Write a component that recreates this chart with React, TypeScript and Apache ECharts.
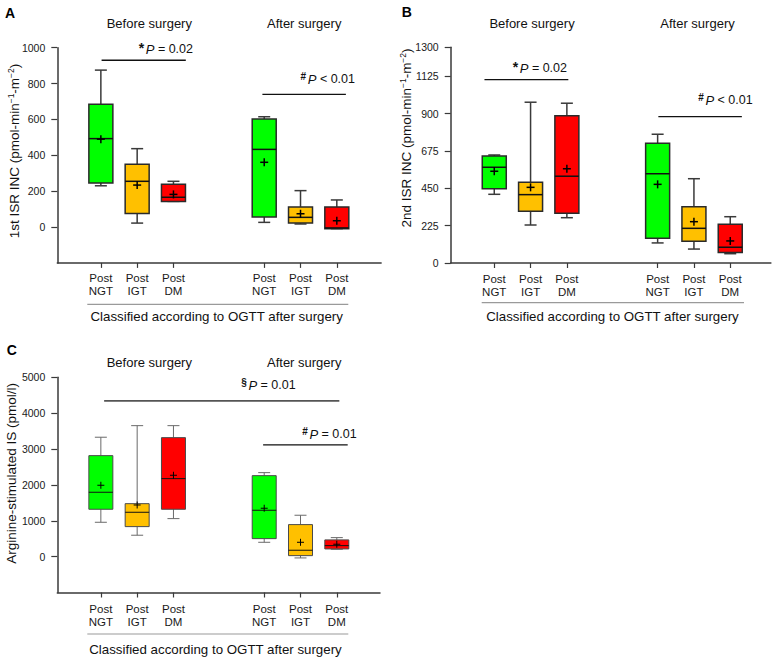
import React, { useEffect, useRef } from 'react';
import * as echarts from 'echarts';

const FONT = '"Liberation Sans", Arial, Helvetica, sans-serif';

// Category positions on the x value-axis (two groups of three)
const positions = [1, 2, 3, 5.5, 6.5, 7.5];
const groupLabels = ['Post\nNGT', 'Post\nIGT', 'Post\nDM', 'Post\nNGT', 'Post\nIGT', 'Post\nDM'];
const boxColors = ['#00ff00', '#ffc000', '#ff0000', '#00ff00', '#ffc000', '#ff0000'];

// Panel A: 1st ISR INC — [min, Q1, median, Q3, max]
const isr1Boxes = [
  [230, 245, 493, 684, 875],
  [22, 76, 255, 350, 437],
  [143, 143, 166, 238, 255],
  [26, 56, 433, 602, 615],
  [17, 22, 54, 112, 203],
  [-9, -9, -5, 112, 151],
];
const isr1Means = [490, 234, 182, 361, 74, 35];
const isr1Ticks = [0, 200, 400, 600, 800, 1000];

// Panel B: 2nd ISR INC
const isr2Boxes = [
  [414, 448, 577, 645, 651],
  [229, 312, 412, 486, 969],
  [273, 300, 523, 888, 963],
  [121, 149, 538, 721, 776],
  [84, 131, 209, 339, 508],
  [56, 64, 95, 233, 279],
];
const isr2Means = [553, 456, 568, 474, 249, 133];
const isr2Ticks = [0, 225, 450, 675, 900, 1125, 1300];

// Panel C: Arginine-stimulated IS
const argBoxes = [
  [958, 1321, 1795, 2816, 3329],
  [597, 837, 1237, 1477, 3652],
  [1060, 1321, 2175, 3318, 3652],
  [400, 502, 1293, 2258, 2342],
  [-36, 28, 178, 893, 1154],
  [206, 215, 307, 466, 530],
];
const argMeans = [1990, 1440, 2269, 1349, 400, 346];
const argTicks = [0, 1000, 2000, 3000, 4000, 5000];

// Significance bars: [xStart, xEnd, yValue]
const sigA = [[1.02, 3.34, 930], [5.45, 7.75, 740]];
const sigB = [[0.73, 3.04, 1105], [5.52, 7.82, 882]];
const sigC = [[1.09, 7.57, 4341], [5.47, 7.8, 3114]];
const sigMarksA = ['*', '#'];
const sigMarksB = ['*', '#'];
const sigMarksC = ['§', '#'];
const sigTextsA = ['= 0.02', '< 0.01'];
const sigTextsB = ['= 0.02', '< 0.01'];
const sigTextsC = ['= 0.01', '= 0.01'];

const panels = [
  { letter: 'A', lx: 10, ly: 12.5, left: 57.3, top: 47.7, width: 323.8, height: 215.2, xMax: 8.72, yMin: -200, yMax: 1000,
    boxes: isr1Boxes, means: isr1Means, ticks: isr1Ticks, sig: sigA, marks: sigMarksA, texts: sigTextsA,
    sigPos: [[193, 49.3], [355, 79.3]], headY: 23, headX: [149.3, 304.2],
    nameX: 14.5, nameY: 151, name: '{n|1st ISR INC (pmol-min}{s|−1}{n|-m}{s|−2}{n|)}',
    sepY: 304.3, sepX: [87.3, 348.3], bottomX: 216.7, bottomY: 316.7, thin: false, labelMargin: 9 },
  { letter: 'B', lx: 406.7, ly: 12, left: 450.7, top: 47.3, width: 320.2, height: 215.7, xMax: 8.62, yMin: 0, yMax: 1300,
    boxes: isr2Boxes, means: isr2Means, ticks: isr2Ticks, sig: sigB, marks: sigMarksB, texts: sigTextsB,
    sigPos: [[567, 68.3], [752.7, 100]], headY: 23, headX: [532, 697.5],
    nameX: 406, nameY: 138, name: '{n|2nd ISR INC (pmol-min}{s|−1}{n|-m}{s|−2}{n|)}',
    sepY: 302.7, sepX: [481.7, 744], bottomX: 612.5, bottomY: 316.7, thin: false, labelMargin: 9 },
  { letter: 'C', lx: 11.7, ly: 350, left: 57.3, top: 377.3, width: 322.7, height: 215.2, xMax: 8.69, yMin: -1000, yMax: 5000,
    boxes: argBoxes, means: argMeans, ticks: argTicks, sig: sigC, marks: sigMarksC, texts: sigTextsC,
    sigPos: [[295.7, 385], [356.7, 434]], headY: 362.5, headX: [149.3, 304.2],
    nameX: 11.7, nameY: 473.3, name: '{n|Arginine-stimulated IS (pmol/l)}',
    sepY: 634, sepX: [87.3, 348.3], bottomX: 215.5, bottomY: 649, thin: true, labelMargin: 10 },
];

const axisColor = '#3a3a3a';

function makeBoxSeries(gi: number, boxes: number[][], means: number[], thin: boolean) {
  return {
    type: 'custom',
    xAxisIndex: gi,
    yAxisIndex: gi,
    silent: true,
    clip: false,
    encode: { x: 0, y: [1, 2, 3, 4, 5, 6] },
    data: positions.map((p, i) => [p, ...boxes[i], means[i]]),
    renderItem: (params: any, api: any) => {
      const x = api.value(0);
      const pMin = api.coord([x, api.value(1)]);
      const cx = pMin[0];
      const yMin = pMin[1];
      const yQ1 = api.coord([x, api.value(2)])[1];
      const yMed = api.coord([x, api.value(3)])[1];
      const yQ3 = api.coord([x, api.value(4)])[1];
      const yMax = api.coord([x, api.value(5)])[1];
      const yMean = api.coord([x, api.value(6)])[1];
      const bw = 24;
      const cw = 12;
      const pr = thin ? 3.5 : 4;
      const lw = thin ? 1 : 1.5;
      const edge = thin ? '#4a4a4a' : '#2a2a2a';
      const wStroke = thin ? '#6a6a6a' : '#3a3a3a';
      const L = (x1: number, y1: number, x2: number, y2: number, stroke: string, w: number) => ({
        type: 'line',
        shape: { x1, y1, x2, y2 },
        style: { stroke, lineWidth: w },
      });
      return {
        type: 'group',
        children: [
          L(cx, yMax, cx, yQ3, wStroke, lw),
          L(cx, yQ1, cx, yMin, wStroke, lw),
          L(cx - cw / 2, yMax, cx + cw / 2, yMax, wStroke, lw),
          L(cx - cw / 2, yMin, cx + cw / 2, yMin, wStroke, lw),
          {
            type: 'rect',
            shape: { x: cx - bw / 2, y: yQ3, width: bw, height: yQ1 - yQ3 },
            style: { fill: boxColors[params.dataIndex], stroke: edge, lineWidth: lw },
          },
          L(cx - bw / 2, yMed, cx + bw / 2, yMed, '#111', lw),
          L(cx - pr, yMean, cx + pr, yMean, '#000', lw),
          L(cx, yMean - pr, cx, yMean + pr, '#000', lw),
        ],
      };
    },
  };
}

function buildOption() {
  const grid: any[] = [];
  const xAxis: any[] = [];
  const yAxis: any[] = [];
  const series: any[] = [];
  const graphic: any[] = [];

  panels.forEach((pn, gi) => {
    grid.push({ left: pn.left, top: pn.top, width: pn.width, height: pn.height, containLabel: false });
    xAxis.push({
      type: 'value',
      gridIndex: gi,
      min: -0.2,
      max: pn.xMax,
      splitLine: { show: false },
      axisLine: { show: true, onZero: false, lineStyle: { color: axisColor, width: 1.5 } },
      axisTick: { show: true, customValues: positions, length: 5, lineStyle: { color: axisColor, width: 1.2 } },
      axisLabel: {
        customValues: positions,
        formatter: (v: number) => {
          const i = positions.findIndex((p) => Math.abs(p - v) < 1e-6);
          return i >= 0 ? groupLabels[i] : '';
        },
        fontFamily: FONT,
        fontSize: 11.5,
        lineHeight: 13,
        color: '#1a1a1a',
        margin: pn.labelMargin,
      },
    });
    yAxis.push({
      type: 'value',
      gridIndex: gi,
      min: pn.yMin,
      max: pn.yMax,
      splitLine: { show: false },
      axisLine: { show: true, onZero: false, lineStyle: { color: axisColor, width: 1.5 } },
      axisTick: { show: true, customValues: pn.ticks, length: 6, lineStyle: { color: axisColor, width: 1.2 } },
      axisLabel: {
        customValues: pn.ticks,
        formatter: (v: number) => String(v),
        fontFamily: FONT,
        fontSize: 10.5,
        color: '#1a1a1a',
        margin: 12,
      },
    });
    series.push(makeBoxSeries(gi, pn.boxes, pn.means, pn.thin));
    pn.sig.forEach((s, k) => {
      series.push({
        type: 'line',
        xAxisIndex: gi,
        yAxisIndex: gi,
        silent: true,
        symbol: 'none',
        data: [[s[0], s[2]], [s[1], s[2]]],
        lineStyle: {
          color: pn.thin && k === 0 ? '#555' : '#111',
          width: pn.thin && k === 0 ? 1.8 : 1.3,
        },
      });
      graphic.push({
        type: 'text',
        x: pn.sigPos[k][0],
        y: pn.sigPos[k][1],
        silent: true,
        style: {
          text: `{m|${pn.marks[k]}}{g| }{p|P}{t| ${pn.texts[k]}}`,
          align: 'right',
          verticalAlign: 'middle',
          rich: {
            m: { fontFamily: FONT, fontSize: pn.marks[k] === '*' ? 14 : 10, fontWeight: 'bold', fill: '#111', verticalAlign: 'top', lineHeight: 16 },
            g: { fontFamily: FONT, fontSize: 6, lineHeight: 16 },
            p: { fontFamily: FONT, fontSize: 13, fontStyle: 'italic', fill: '#111', lineHeight: 16 },
            t: { fontFamily: FONT, fontSize: 12.5, fill: '#111', lineHeight: 16 },
          },
        },
      });
    });

    // panel letter
    graphic.push({
      type: 'text', x: pn.lx, y: pn.ly, silent: true,
      style: { text: pn.letter, fontFamily: FONT, fontSize: 14, fontWeight: 'bold', fill: '#000', align: 'center', verticalAlign: 'middle' },
    });
    // headings
    ['Before surgery', 'After surgery'].forEach((h, k) => {
      graphic.push({
        type: 'text', x: pn.headX[k], y: pn.headY, silent: true,
        style: { text: h, fontFamily: FONT, fontSize: 13, fill: '#111', align: 'center', verticalAlign: 'middle' },
      });
    });
    // y axis name
    graphic.push({
      type: 'text', x: pn.nameX, y: pn.nameY, rotation: Math.PI / 2, silent: true,
      style: {
        text: pn.name,
        align: 'center',
        verticalAlign: 'middle',
        rich: {
          n: { fontFamily: FONT, fontSize: 13.5, fill: '#111', lineHeight: 16 },
          s: { fontFamily: FONT, fontSize: 8.5, fill: '#111', verticalAlign: 'top', lineHeight: 10 },
        },
      },
    });
    // separator line and bottom caption
    graphic.push({
      type: 'line', silent: true,
      shape: { x1: pn.sepX[0], y1: pn.sepY, x2: pn.sepX[1], y2: pn.sepY },
      style: { stroke: '#9a9a9a', lineWidth: 1.2 },
    });
    graphic.push({
      type: 'text', x: pn.bottomX, y: pn.bottomY, silent: true,
      style: { text: 'Classified according to OGTT after surgery', fontFamily: FONT, fontSize: 13.3, fill: '#111', align: 'center', verticalAlign: 'middle' },
    });
  });

  return {
    animation: false,
    backgroundColor: '#ffffff',
    textStyle: { fontFamily: FONT },
    grid,
    xAxis,
    yAxis,
    series,
    graphic,
  };
}

export default function App() {
  const ref = useRef<HTMLDivElement>(null);
  useEffect(() => {
    if (!ref.current) return;
    const chart = echarts.init(ref.current, undefined, { renderer: 'svg' });
    chart.setOption(buildOption() as any);
    return () => chart.dispose();
  }, []);
  return (
    <div
      ref={ref}
      style={{ position: 'absolute', left: 0, top: 0, width: 780, height: 661, background: '#fff' }}
    />
  );
}
